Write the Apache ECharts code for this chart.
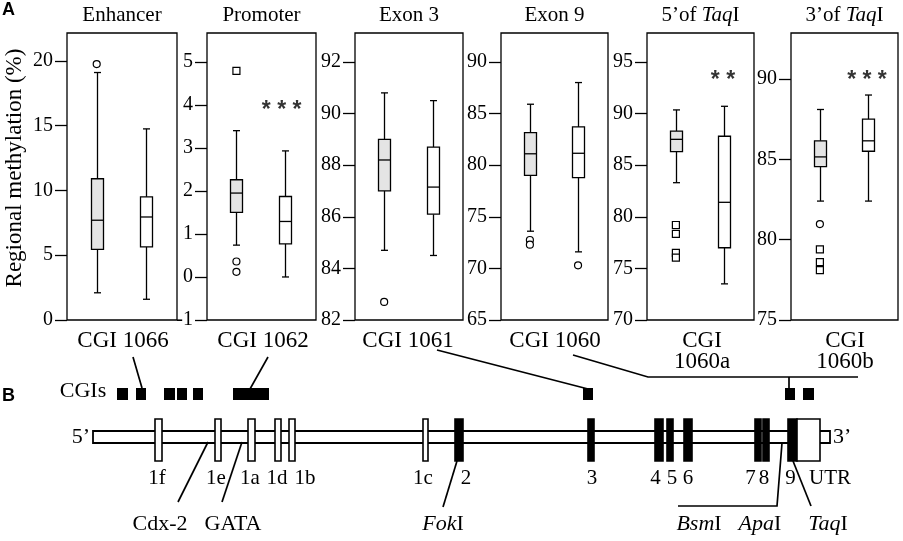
<!DOCTYPE html>
<html>
<head>
<meta charset="utf-8">
<script src="https://cdn.jsdelivr.net/npm/echarts@6.0.0/dist/echarts.min.js"></script>
<style>
  html, body { margin: 0; padding: 0; background: #fff; }
  #chart { width: 903px; height: 541px; }
</style>
</head>
<body>
<div id="chart"></div>
<script>
// ---------- values ----------
const regions = ['Enhancer', 'Promoter', 'Exon 3', 'Exon 9', '5’of {i|Taq}I', '3’of {i|Taq}I'];

// [low whisker, Q1, median, Q3, high whisker]; first = grey group, second = white group
const enhancerBox = [[2.1, 5.45, 7.7, 10.9, 19.1], [1.6, 5.65, 7.95, 9.5, 14.75]];
const promoterBox = [[0.74, 1.5, 1.95, 2.26, 3.4], [0.0, 0.77, 1.29, 1.87, 2.93]];
const exon3Box = [[84.7, 87.0, 88.2, 89.0, 90.8], [84.5, 86.1, 87.15, 88.7, 90.5]];
const exon9Box = [[73.6, 79.0, 81.1, 83.15, 85.9], [71.6, 78.8, 81.15, 83.7, 88.0]];
const taq5Box = [[83.3, 86.3, 87.5, 88.3, 90.35], [73.5, 77.0, 81.4, 87.8, 90.7]];
const taq3Box = [[82.4, 84.55, 85.15, 86.15, 88.1], [82.4, 85.5, 86.15, 87.5, 89.0]];

// outliers: [group, value, shape]  shape 0 = circle, 1 = square
const enhancerOut = [[0, 19.75, 0]];
const promoterOut = [[0, 4.79, 1], [0, 0.36, 0], [0, 0.12, 0]];
const exon3Out = [[0, 82.7, 0]];
const exon9Out = [[0, 72.75, 0], [0, 72.3, 0], [1, 70.3, 0]];
const taq5Out = [[0, 79.2, 1], [0, 78.35, 1], [0, 76.5, 1], [0, 76.05, 1]];
const taq3Out = [[0, 80.97, 0], [0, 79.4, 1], [0, 78.6, 1], [0, 78.1, 1]];

const sigLabels = ['', '* * *', '', '', '* *', '* * *'];
const sigValue = [null, 4.0, null, null, 93.8, 90.25];

const enhancerTicks = [0, 5, 10, 15, 20];
const promoterTicks = [-1, 0, 1, 2, 3, 4, 5];
const exon3Ticks = [82, 84, 86, 88, 90, 92];
const exon9Ticks = [65, 70, 75, 80, 85, 90];
const taq5Ticks = [70, 75, 80, 85, 90, 95];
const taq3Ticks = [75, 80, 85, 90];

// gene map (position along the gene, 5' end = 0)
const geneSpan = [0, 737];
const exonNames = ['1f', '1e', '1a', '1d', '1b', '1c', '2', '3', '4', '5', '6', '7', '8', '9', 'UTR'];
const exonStart = [62, 122, 155, 182, 196, 330, 362, 495, 562, 574, 591, 662, 670, 695, 704];
const exonEnd = [69, 128, 162, 188, 202, 335, 370, 501, 570, 580, 599, 668, 676, 704, 727];
const exonCoding = [0, 0, 0, 0, 0, 0, 1, 1, 1, 1, 1, 1, 1, 1, 0];
const exonLabelAt = [64, 123, 157, 184, 212, 330, 373, 499, 562.5, 579, 595, 657.5, 671, 697.5, 737];
const cgiStart = [24, 43, 71, 84, 100, 140, 490, 692, 710];
const cgiEnd = [35, 53, 82, 94, 110, 176, 500, 702, 721];
const cgiNames = ['CGI 1066', 'CGI 1062', 'CGI 1061', 'CGI 1060', 'CGI\n1060a', 'CGI\n1060b'];
const cgiNameAt = [30, 170, 315, 462, 609, 752];
const siteNames = ['Cdx-2', 'GATA', '{i|Fok}I', '{i|Bsm}I', '{i|Apa}I', '{i|Taq}I'];
const siteNameAt = [67, 140, 350, 606, 667, 735];

// ---------- layout ----------
const SERIF = '"Liberation Serif", "Times New Roman", serif';
const SANS = '"Liberation Sans", Arial, sans-serif';
const PANELS = [
  { left: 67, width: 110, min: 0, max: 22.15 },
  { left: 207, width: 109, min: -1, max: 5.67 },
  { left: 355, width: 108, min: 82, max: 93.12 },
  { left: 501, width: 107, min: 65, max: 92.8 },
  { left: 647, width: 107, min: 70, max: 97.8 },
  { left: 791, width: 107, min: 75, max: 92.86 }
];
const PANEL_TOP = 33, PANEL_H = 287;
const BOX_POS = [0.27, 0.72];
const SIG_POS = [0, 0.685, 0, 0, 0.71, 0.71];
const BOX_W = 12, CAP_W = 7;
const BOX_FILL = ['#e4e4e4', '#ffffff'];
// rows of the gene map, px below the top of its grid
const ROW = { cgiLabel: 10, cgiBox: [68, 80], bar: [111, 123], exon: [99, 141], exonLabel: 158, siteLabel: 204 };
const cgiLeaders = [
  [[40, 37], [49, 68]],
  [[175, 37], [157, 69]],
  [[344, 30], [499, 70]],
  [[480, 35], [555, 57], [765, 57]],
  [[696, 57], [696, 68]]
];
const siteLeaders = [
  [[115, 122], [85, 182]],
  [[149, 122], [129, 182]],
  [[364, 141], [350, 187]],
  [[689, 123], [684, 186], [585, 186]],
  [[700, 141], [718, 186]]
];

const boxes = [enhancerBox, promoterBox, exon3Box, exon9Box, taq5Box, taq3Box];
const outliers = [enhancerOut, promoterOut, exon3Out, exon9Out, taq5Out, taq3Out];
const ticks = [enhancerTicks, promoterTicks, exon3Ticks, exon9Ticks, taq5Ticks, taq3Ticks];

const chart = echarts.init(document.getElementById('chart'));

function renderBox(params, api) {
  const x = api.value(0);
  const lo = api.coord([x, api.value(1)]);
  const q1 = api.coord([x, api.value(2)]);
  const md = api.coord([x, api.value(3)]);
  const q3 = api.coord([x, api.value(4)]);
  const hi = api.coord([x, api.value(5)]);
  const cx = Math.round(lo[0]) + 0.5, hw = BOX_W / 2, cw = CAP_W / 2;
  const st = { stroke: '#000', lineWidth: 1.3 };
  return {
    type: 'group',
    children: [
      { type: 'line', shape: { x1: cx, y1: hi[1], x2: cx, y2: q3[1] }, style: st },
      { type: 'line', shape: { x1: cx, y1: q1[1], x2: cx, y2: lo[1] }, style: st },
      { type: 'line', shape: { x1: cx - cw, y1: hi[1], x2: cx + cw, y2: hi[1] }, style: st },
      { type: 'line', shape: { x1: cx - cw, y1: lo[1], x2: cx + cw, y2: lo[1] }, style: st },
      { type: 'rect', shape: { x: cx - hw, y: q3[1], width: BOX_W, height: q1[1] - q3[1] },
        style: { fill: BOX_FILL[params.dataIndex], stroke: '#000', lineWidth: 1.3 } },
      { type: 'line', shape: { x1: cx - hw, y1: md[1], x2: cx + hw, y2: md[1] }, style: st }
    ]
  };
}

function textEl(p, txt, opts) {
  opts = opts || {};
  const size = opts.size || 22;
  return {
    type: 'text', x: p[0], y: p[1],
    style: {
      text: txt, fill: '#000', fontSize: size, fontFamily: SERIF,
      align: opts.align || 'center', verticalAlign: opts.va || 'middle', lineHeight: opts.lh || size,
      rich: { i: { fontStyle: 'italic', fontSize: size, fontFamily: SERIF } }
    }
  };
}

const grid = [], xAxis = [], yAxis = [], series = [], graphic = [];

PANELS.forEach((p, i) => {
  grid.push({ left: p.left, width: p.width, top: PANEL_TOP, height: PANEL_H, show: true,
    borderColor: '#000', borderWidth: 1.3, backgroundColor: 'transparent' });
  xAxis.push({ gridIndex: i, type: 'value', min: 0, max: 1, show: false });
  yAxis.push({
    gridIndex: i, type: 'value', min: p.min, max: p.max,
    interval: ticks[i][1] - ticks[i][0],
    axisLine: { show: false },
    splitLine: { show: false },
    axisTick: { show: true, length: 12, customValues: ticks[i], lineStyle: { color: '#000', width: 1.3 } },
    axisLabel: { margin: 14, customValues: ticks[i], color: '#000', fontSize: 20, fontFamily: SERIF }
  });
  series.push({
    type: 'custom', xAxisIndex: i, yAxisIndex: i, renderItem: renderBox,
    data: boxes[i].map((s, k) => [BOX_POS[k]].concat(s))
  });
  series.push({
    type: 'scatter', xAxisIndex: i, yAxisIndex: i, silent: true,
    symbol: (v) => (v[2] === 1 ? 'rect' : 'circle'),
    symbolSize: 7,
    itemStyle: { color: '#fff', borderColor: '#000', borderWidth: 1.2, opacity: 1 },
    data: outliers[i].map((o) => [BOX_POS[o[0]], o[1], o[2]])
  });
  if (sigLabels[i]) {
    series.push({
      type: 'scatter', xAxisIndex: i, yAxisIndex: i, symbolSize: 0, silent: true,
      label: { show: true, position: 'inside', formatter: sigLabels[i], color: '#000',
        fontSize: 23, fontWeight: 'bold', fontFamily: SANS, offset: [0, 6] },
      data: [[SIG_POS[i], sigValue[i]]]
    });
  }
  graphic.push({
    type: 'text', x: p.left + p.width / 2, y: 15,
    style: { text: regions[i], fill: '#000', fontSize: 21, fontFamily: SERIF,
      align: 'center', verticalAlign: 'middle',
      rich: { i: { fontStyle: 'italic', fontSize: 21, fontFamily: SERIF } } }
  });
});

// gene map grid: x = position along the gene, y = rows in px
const G = PANELS.length;
grid.push({ left: 0, right: 0, top: 320, bottom: 0 });
xAxis.push({ gridIndex: G, type: 'value', min: -93, max: 810, show: false });
yAxis.push({ gridIndex: G, type: 'value', min: 0, max: 221, inverse: true, show: false });

const mapAxes = { xAxisIndex: G, yAxisIndex: G, silent: true };

// gene backbone
series.push(Object.assign({
  type: 'custom', data: [geneSpan],
  renderItem: (params, api) => {
    const a = api.coord([api.value(0), ROW.bar[0]]);
    const b = api.coord([api.value(1), ROW.bar[1]]);
    return { type: 'rect', shape: { x: a[0], y: a[1], width: b[0] - a[0], height: b[1] - a[1] },
      style: { fill: '#fff', stroke: '#000', lineWidth: 1.8 } };
  }
}, mapAxes));

// exons
series.push(Object.assign({
  type: 'custom',
  data: exonStart.map((s, k) => [s, exonEnd[k], exonCoding[k]]),
  renderItem: (params, api) => {
    const a = api.coord([api.value(0), ROW.exon[0]]);
    const b = api.coord([api.value(1), ROW.exon[1]]);
    return { type: 'rect', shape: { x: a[0], y: a[1], width: b[0] - a[0], height: b[1] - a[1] },
      style: { fill: api.value(2) ? '#000' : '#fff', stroke: '#000', lineWidth: 1.6 } };
  }
}, mapAxes));

// CpG islands
series.push(Object.assign({
  type: 'custom',
  data: cgiStart.map((s, k) => [s, cgiEnd[k]]),
  renderItem: (params, api) => {
    const a = api.coord([api.value(0), ROW.cgiBox[0]]);
    const b = api.coord([api.value(1), ROW.cgiBox[1]]);
    return { type: 'rect', shape: { x: a[0], y: a[1], width: b[0] - a[0], height: b[1] - a[1] },
      style: { fill: '#000' } };
  }
}, mapAxes));

// leader lines
const leaders = cgiLeaders.concat(siteLeaders);
series.push(Object.assign({
  type: 'custom',
  data: leaders.map((l, k) => [k]),
  renderItem: (params, api) => ({
    type: 'polyline',
    shape: { points: leaders[params.dataIndex].map((pt) => api.coord(pt)) },
    style: { stroke: '#000', lineWidth: 1.7, fill: null }
  })
}, mapAxes));

// exon labels
series.push(Object.assign({
  type: 'custom',
  data: exonLabelAt.map((x) => [x]),
  renderItem: (params, api) => textEl(api.coord([api.value(0), ROW.exonLabel]), exonNames[params.dataIndex],
    { size: 21 })
}, mapAxes));

// CGI labels
series.push(Object.assign({
  type: 'custom',
  data: cgiNameAt.map((x) => [x]),
  renderItem: (params, api) => textEl(api.coord([api.value(0), ROW.cgiLabel]), cgiNames[params.dataIndex],
    { size: 23, va: 'top', lh: 21 })
}, mapAxes));

// binding / restriction site labels
series.push(Object.assign({
  type: 'custom',
  data: siteNameAt.map((x) => [x]),
  renderItem: (params, api) => textEl(api.coord([api.value(0), ROW.siteLabel]), siteNames[params.dataIndex])
}, mapAxes));

// track labels
series.push(Object.assign({
  type: 'custom',
  data: [[-10, 71], [-3, 117], [740, 117]],
  renderItem: (params, api) => {
    const t = ['CGIs', '5’', '3’'][params.dataIndex];
    const al = ['center', 'right', 'left'][params.dataIndex];
    return textEl(api.coord([api.value(0), api.value(1)]), t, { align: al });
  }
}, mapAxes));

graphic.push(
  { type: 'text', x: 15, y: 168, rotation: Math.PI / 2,
    style: { text: 'Regional methylation (%)', fill: '#000', fontSize: 23, fontFamily: SERIF,
      align: 'center', verticalAlign: 'middle' } },
  { type: 'text', x: 2, y: 10, style: { text: 'A', fill: '#000', fontSize: 18, fontWeight: 'bold',
    fontFamily: SANS, verticalAlign: 'middle' } },
  { type: 'text', x: 2, y: 396, style: { text: 'B', fill: '#000', fontSize: 18, fontWeight: 'bold',
    fontFamily: SANS, verticalAlign: 'middle' } }
);

chart.setOption({
  backgroundColor: '#fff',
  animation: false,
  grid, xAxis, yAxis, series, graphic
});
</script>
</body>
</html>
